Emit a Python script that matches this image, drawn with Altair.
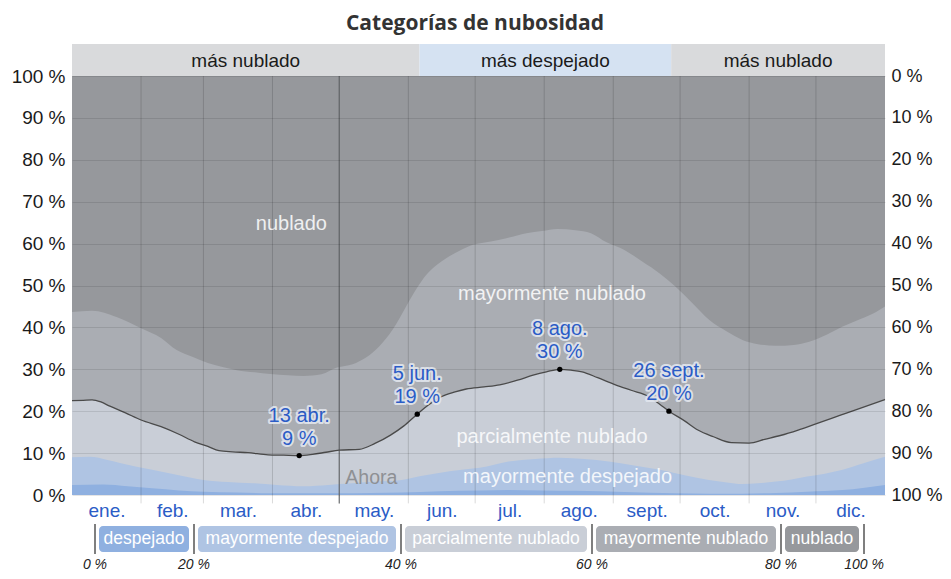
import altair as alt
import pandas as pd

FONT = "Liberation Sans"

# ---------------- data ----------------
months = ["ene.", "feb.", "mar.", "abr.", "may.", "jun.", "jul.", "ago.", "sept.", "oct.", "nov.", "dic."]
month_start = [0, 31, 59, 90, 120, 151, 181, 212, 243, 273, 304, 334]
month_mid = [15.5, 45, 74.5, 105, 135.5, 166, 196.5, 227.5, 258, 288.5, 319, 349.5]

cat_names = ["despejado", "mayormente despejado", "parcialmente nublado", "mayormente nublado", "nublado"]
cat_colors = ["#8fb0e0", "#afc4e3", "#c9ced7", "#aaadb3", "#96989c"]

# cumulative upper edge (%) of "mayormente nublado"
mn_days = [0, 9, 20, 31, 40, 47, 54, 61, 68, 74, 82, 89, 97, 104, 112, 119, 126, 132, 138, 144,
           150, 155, 159, 164, 168, 174, 180, 188, 195, 204, 211, 218, 226, 233, 240, 248, 256, 264, 271, 279,
           286, 294, 301, 308, 316, 324, 331, 339, 346, 354, 361, 365]
mn_vals = [43.7, 44.0, 42.5, 39.8, 37.5, 34.6, 33.0, 31.5, 30.5, 29.8, 29.3, 28.9, 28.6, 28.4, 28.8, 30.4, 31.2, 32.8, 35.5, 39.5,
           45.0, 49.5, 52.5, 55.0, 56.5, 58.3, 59.7, 60.5, 61.3, 62.5, 63.0, 63.5, 63.2, 62.5, 60.3, 58.5, 55.7, 52.8, 49.7, 45.5,
           41.8, 39.0, 37.0, 36.0, 35.6, 35.8, 36.6, 38.3, 40.2, 42.0, 43.7, 45.0]

# cumulative upper edge (%) of "parcialmente nublado" (black line)
pn_days = [0, 5, 9, 13, 17, 24, 31, 40, 48, 55, 61, 66, 72, 79, 88, 95, 102, 108, 114, 120,
           129, 136, 143, 149, 155, 160, 166, 172, 177, 185, 192, 200, 207, 213, 219, 224, 229, 236, 244, 251,
           259, 264, 268, 275, 281, 288, 296, 304, 311, 318, 326, 333, 341, 348, 356, 365]
pn_vals = [22.5, 22.6, 22.7, 22.2, 21.2, 19.6, 17.9, 16.3, 14.5, 12.7, 11.6, 10.6, 10.3, 10.1, 9.6, 9.5, 9.4, 9.7, 10.2, 10.7,
           10.9, 12.3, 14.3, 16.5, 19.3, 21.5, 23.5, 24.6, 25.3, 25.8, 26.3, 27.4, 28.6, 29.4, 30.0, 29.8, 29.4, 28.0, 26.3, 25.0,
           23.5, 21.6, 20.0, 17.7, 15.5, 13.9, 12.5, 12.4, 13.3, 14.2, 15.5, 16.8, 18.3, 19.6, 21.1, 22.8]

# cumulative upper edge (%) of "mayormente despejado"
md_days = [0, 8, 15, 22, 36, 48, 59, 70, 81, 92, 104, 115, 126, 137, 148, 156, 164, 175, 183, 196,
           208, 219, 230, 241, 253, 264, 275, 286, 294, 301, 308, 316, 323, 330, 338, 346, 355, 365]
md_vals = [9.0, 9.1, 8.5, 7.6, 6.0, 4.7, 3.6, 3.1, 2.8, 2.4, 2.1, 2.4, 2.8, 3.2, 3.6, 4.5, 5.2, 6.0, 6.5, 8.0,
           8.6, 8.9, 8.6, 8.0, 7.0, 6.0, 4.7, 3.6, 3.0, 2.6, 2.8, 3.2, 3.7, 4.4, 5.1, 6.0, 7.5, 9.1]

# upper edge (%) of "despejado"
dp_days = [0, 14, 25, 36, 48, 59, 74, 89, 104, 119, 134, 148, 165, 183, 196, 211, 226, 248, 271, 286,
           301, 316, 330, 346, 355, 365]
dp_vals = [2.4, 2.5, 2.1, 1.6, 1.1, 0.8, 0.6, 0.4, 0.4, 0.4, 0.5, 0.6, 0.9, 1.1, 1.2, 1.1, 1.0, 0.7, 0.4, 0.3,
           0.3, 0.5, 0.8, 1.2, 1.7, 2.4]

ann_days = [102, 155, 219, 268]
ann_vals = [9.4, 19.3, 30.0, 20.0]
ann_text = ["13 abr.\n9 %", "5 jun.\n19 %", "8 ago.\n30 %", "26 sept.\n20 %"]

now_day = 120

area_labels = ["nublado", "mayormente nublado", "parcialmente nublado", "mayormente despejado"]
area_label_days = [98.5, 215.5, 215.5, 222.5]
area_label_vals = [64.7, 48.0, 13.8, 4.3]

band_start = [0, 156, 269]
band_end = [156, 269, 365]
band_label = ["más nublado", "más despejado", "más nublado"]
band_colors = ["#d9dadc", "#d5e2f2", "#d9dadc"]

legend_ticks = ["0 %", "20 %", "40 %", "60 %", "80 %", "100 %"]
legend_sep_px = [23, 122, 329, 520, 709, 792]   # layout of the legend strip (px from plot left)

# ---------------- scales / axes ----------------
W, H = 813, 419
xs = alt.Scale(domain=[0, 365], nice=False, zero=False)
ys = alt.Scale(domain=[0, 100], nice=False, zero=False)

label_expr = ("[" + ",".join("'%s'" % m for m in months) + "][indexof([" +
              ",".join(str(v) for v in month_mid) + "], datum.value)]")
x_axis = alt.Axis(values=month_mid, labelExpr=label_expr, ticks=False, grid=False, domain=False,
                  labelFont=FONT, labelFontSize=19, labelColor="#2b5cc6", labelPadding=6,
                  labelOverlap=False, labelBound=False, labelFlush=False, title=None)
y_axis = alt.Axis(values=list(range(0, 101, 10)), labelExpr="datum.value + ' %'", ticks=False,
                  domain=False, grid=True, gridColor="#000000", gridOpacity=0.1, zindex=1,
                  labelFont=FONT, labelFontSize=19, labelColor="#1a1a1a", labelPadding=7,
                  minExtent=64, maxExtent=64, title=None)

X = alt.X("day:Q", scale=xs, axis=x_axis)
Y = alt.Y("v:Q", scale=ys, axis=y_axis)
Y2 = alt.Y2("v0:Q")


def edge_df(days, vals):
    return pd.DataFrame({"day": days, "v": vals, "v0": [0.0] * len(days)})


def area(df, color):
    return alt.Chart(df).mark_area(color=color, interpolate="monotone").encode(x=X, y=Y, y2=Y2)


bg = area(edge_df([0, 365], [100, 100]), cat_colors[4])
a_mn = area(edge_df(mn_days, mn_vals), cat_colors[3])
a_pn = area(edge_df(pn_days, pn_vals), cat_colors[2])
a_md = area(edge_df(md_days, md_vals), cat_colors[1])
a_dp = area(edge_df(dp_days, dp_vals), cat_colors[0])

grid_df = pd.DataFrame({"day": month_start[1:], "v": [100.0] * 11, "v0": [-2.0] * 11})
grid = alt.Chart(grid_df).mark_rule(color="#000000", opacity=0.15, strokeWidth=1).encode(x=X, y=Y, y2=Y2)

now_df = pd.DataFrame({"day": [now_day], "v": [100.0], "v0": [-2.0]})
now_rule = alt.Chart(now_df).mark_rule(color="#5f6164", opacity=0.8, strokeWidth=1.3).encode(x=X, y=Y, y2=Y2)
now_text = alt.Chart(pd.DataFrame({"day": [now_day], "v": [4.1], "t": ["Ahora"]})).mark_text(
    align="left", dx=6, baseline="middle", font=FONT, fontSize=19.5, color="#8e9094"
).encode(x=X, y=Y, text="t:N")

line = alt.Chart(edge_df(pn_days, pn_vals)).mark_line(
    color="#4a4a4a", strokeWidth=1.3, interpolate="monotone").encode(x=X, y=Y)

lab_df = pd.DataFrame({"day": area_label_days, "v": area_label_vals, "t": area_labels})
labels = alt.Chart(lab_df).mark_text(font=FONT, fontSize=20, color="#ffffff", opacity=0.85,
                                     baseline="middle").encode(x=X, y=Y, text="t:N")

ann_df = pd.DataFrame({"day": ann_days, "v": ann_vals, "t": ann_text})
pts = alt.Chart(ann_df).mark_circle(color="#000000", size=28, opacity=1).encode(x=X, y=Y)
ann_style = dict(lineBreak="\n", lineHeight=23, baseline="bottom", dy=-30, font=FONT, fontSize=20)
halo = alt.Chart(ann_df).mark_text(color="#e3e7ee", stroke="#e3e7ee", strokeWidth=4, strokeJoin="round",
                                   strokeOpacity=0.9, **ann_style).encode(x=X, y=Y, text="t:N")
ann = alt.Chart(ann_df).mark_text(color="#2b5cc6", **ann_style).encode(x=X, y=Y, text="t:N")

main = alt.layer(bg, a_mn, a_pn, a_md, a_dp, grid, now_rule, line, now_text, labels, pts, halo, ann)

right = alt.Chart(pd.DataFrame({"day": [0], "r": [0]})).mark_point(opacity=0).encode(
    x=X,
    y=alt.Y("r:Q", scale=alt.Scale(domain=[0, 100], reverse=True, nice=False),
            axis=alt.Axis(orient="right", values=list(range(0, 101, 10)), labelExpr="datum.value + ' %'",
                          ticks=False, domain=False, grid=False, labelFont=FONT, labelFontSize=18,
                          labelColor="#1a1a1a", labelPadding=6, title=None)))

plot = alt.layer(main, right).resolve_scale(y="independent").properties(width=W, height=H)

# ---------------- season band ----------------
band_df = pd.DataFrame({"s": band_start, "e": band_end, "t": band_label, "c": band_colors})
band_df["m"] = (band_df["s"] + band_df["e"]) / 2
band_rect = alt.Chart(band_df).mark_rect().encode(
    x=alt.X("s:Q", scale=xs, axis=None), x2="e:Q",
    y=alt.value(0), y2=alt.value(32), color=alt.Color("c:N", scale=None))
band_text = alt.Chart(band_df).mark_text(font=FONT, fontSize=19, color="#1a1a1a", baseline="middle").encode(
    x=alt.X("m:Q", scale=xs, axis=None), y=alt.value(16.5), text="t:N")
band = alt.layer(band_rect, band_text).properties(width=W, height=32)

# ---------------- legend strip ----------------
lx = alt.Scale(domain=[0, W], nice=False, zero=False)
leg_df = pd.DataFrame({
    "t": cat_names,
    "x0": [s + 4 for s in legend_sep_px[:-1]],
    "x1": [s - 5 for s in legend_sep_px[1:]],
    "c": cat_colors,
})
leg_df["xm"] = (leg_df["x0"] + leg_df["x1"]) / 2
sep_df = pd.DataFrame({"x": legend_sep_px, "t": legend_ticks})

boxes = alt.Chart(leg_df).mark_rect(cornerRadius=4).encode(
    x=alt.X("x0:Q", scale=lx, axis=None), x2="x1:Q",
    y=alt.value(2), y2=alt.value(28), color=alt.Color("c:N", scale=None))
box_text = alt.Chart(leg_df).mark_text(font=FONT, fontSize=17.5, color="#ffffff", baseline="middle").encode(
    x=alt.X("xm:Q", scale=lx, axis=None), y=alt.value(15), text="t:N")
seps = alt.Chart(sep_df).mark_rule(color="#555555", strokeWidth=1.5).encode(
    x=alt.X("x:Q", scale=lx, axis=None), y=alt.value(0), y2=alt.value(30))
pct = alt.Chart(sep_df).mark_text(font=FONT, fontSize=14, fontStyle="italic", color="#222222",
                                  baseline="middle").encode(
    x=alt.X("x:Q", scale=lx, axis=None), y=alt.value(41), text="t:N")
legend = alt.layer(boxes, box_text, seps, pct).properties(width=W, height=44)

top = alt.vconcat(band, plot, spacing=0, bounds="flush").resolve_scale(x="independent")
chart = alt.vconcat(top, legend, spacing=3).resolve_scale(x="independent").properties(
    title=alt.TitleParams("Categorías de nubosidad", font="Open Sans", fontSize=21, fontWeight="bold",
                          color="#333333", anchor="middle", offset=10),
    padding={"left": 0, "top": 5, "right": 0, "bottom": 0},
).configure(font=FONT).configure_view(stroke=None, strokeWidth=0)

chart.save("out.html", embed_options={"renderer": "svg", "actions": False})
